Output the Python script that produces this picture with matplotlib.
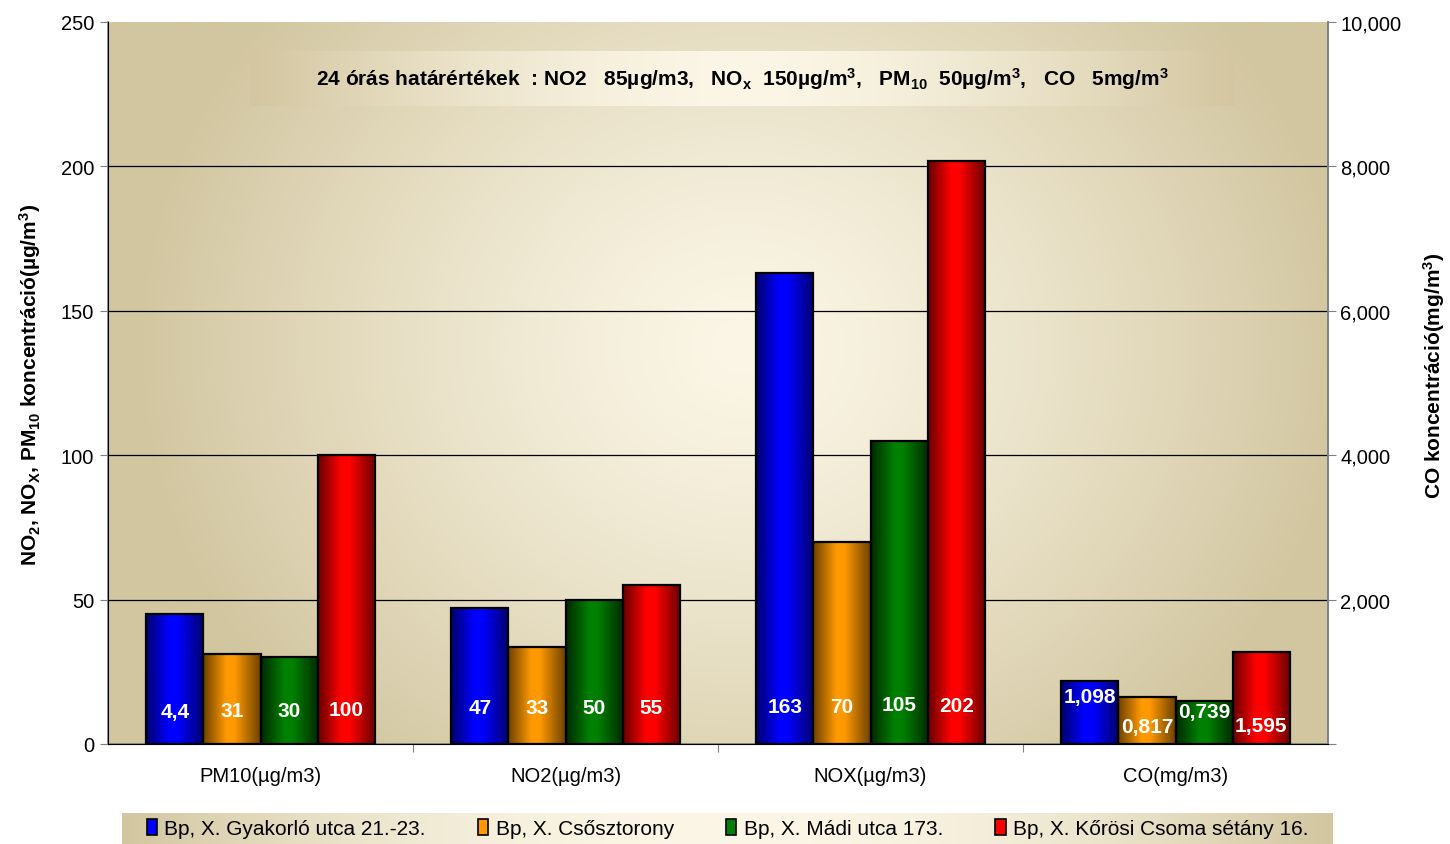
import matplotlib.pyplot as plt
from matplotlib.colors import LinearSegmentedColormap, to_rgb
from matplotlib.patches import Rectangle
import numpy as np

plt.rcParams['font.family'] = ['Liberation Sans', 'DejaVu Sans']
plt.rcParams['mathtext.fontset'] = 'custom'
plt.rcParams['mathtext.rm'] = 'Liberation Sans:bold'
plt.rcParams['mathtext.it'] = 'Liberation Sans:bold'
plt.rcParams['mathtext.bf'] = 'Liberation Sans:bold'
plt.rcParams['mathtext.default'] = 'rm'

# data
categories = ['PM10(µg/m3)', 'NO2(µg/m3)', 'NOX(µg/m3)', 'CO(mg/m3)']
stations = ['Bp, X. Gyakorló utca 21.-23.', 'Bp, X. Csősztorony',
            'Bp, X. Mádi utca 173.', 'Bp, X. Kőrösi Csoma sétány 16.']
# bar heights on the left axis (CO plotted x20)
heights = [
    [45, 31, 30, 100],
    [47, 33.5, 50, 55],
    [163, 70, 105, 202],
    [21.96, 16.34, 14.78, 31.9],
]
labels = [
    ['4,4', '31', '30', '100'],
    ['47', '33', '50', '55'],
    ['163', '70', '105', '202'],
    ['1,098', '0,817', '0,739', '1,595'],
]
label_y = [
    [11.2, 11.6, 11.6, 11.8],
    [12.8, 12.8, 12.8, 12.8],
    [13.0, 13.0, 13.6, 13.2],
    [16.4, 6.2, 11.2, 6.4],
]
bright = ['#0000ff', '#ff9900', '#008000', '#ff0000']
dark = ['#000070', '#6e4200', '#002a00', '#6a0000']

TAN = np.array(to_rgb('#d2c6a0'))
CREAM = np.array(to_rgb('#fbf6e6'))


def radial_bg(nx, ny, cx, cy, rx, ry, p=1.3, c0=CREAM, c1=TAN):
    xx, yy = np.meshgrid(np.linspace(0, 1, nx), np.linspace(0, 1, ny))
    t = np.sqrt(((xx - cx) / rx) ** 2 + ((yy - cy) / ry) ** 2)
    t = np.clip(t, 0, 1) ** p
    return c0 * (1 - t[..., None]) + c1 * t[..., None]


W, H = 1450, 845
fig = plt.figure(figsize=(W / 100, H / 100), dpi=100)
ax = fig.add_axes([108 / W, 1 - 745 / H, 1220 / W, 722 / H])

ax.imshow(radial_bg(300, 200, 0.52, 0.45, 0.5, 0.75), extent=[0, 4, 0, 250],
          aspect='auto', zorder=0, interpolation='bilinear')

bw = 0.1875
for g in range(len(categories)):
    start = g + 0.5 - 2 * bw
    for s in range(len(stations)):
        x0 = start + s * bw
        h = heights[g][s]
        cmap = LinearSegmentedColormap.from_list(
            'b', [(0, dark[s]), (0.4, bright[s]), (0.55, bright[s]), (1, dark[s])])
        ax.imshow(np.linspace(0, 1, 64)[None, :], cmap=cmap, extent=[x0, x0 + bw, 0, h],
                  aspect='auto', zorder=2, interpolation='bilinear')
        ax.add_patch(Rectangle((x0, 0), bw, h, fill=False, edgecolor='black',
                               linewidth=1.6, zorder=3))
        ax.text(x0 + bw / 2, label_y[g][s], labels[g][s], color='white',
                fontsize=15, fontweight='bold', ha='center', va='center', zorder=4)

ax.set_xlim(0, 4)
ax.set_ylim(0, 250)
ax.set_yticks([0, 50, 100, 150, 200, 250])
ax.tick_params(axis='y', labelsize=14.5, length=6, color='#808080', pad=4)
for yv in [50, 100, 150, 200]:
    ax.axhline(yv, color='black', linewidth=0.9, zorder=1)
ax.set_xticks([1, 2, 3])
ax.set_xticklabels([])
ax.tick_params(axis='x', length=6, color='#808080')
for i, c in enumerate(categories):
    ax.text(i + 0.5, -11, c, ha='center', va='center', fontsize=14.5)
ax.spines['top'].set_visible(False)
for side in ['left', 'bottom', 'right']:
    ax.spines[side].set_color('#808080')
    ax.spines[side].set_linewidth(1.2)

ax2 = ax.twinx()
ax2.set_ylim(0, 10000)
ax2.set_yticks([0, 2000, 4000, 6000, 8000, 10000])
ax2.set_yticklabels(['', '2,000', '4,000', '6,000', '8,000', '10,000'])
ax2.tick_params(axis='y', labelsize=14.5, length=6, color='#808080', pad=3)
ax2.spines['top'].set_visible(False)
ax2.spines['right'].set_color('#808080')
ax2.spines['right'].set_linewidth(1.2)

fig.text(30 / W, 1 - 385 / H, r'NO$_2$, NO$_X$, PM$_{10}$ koncentráció(µg/m$^3$)',
         rotation=90, ha='center', va='center', fontsize=15, fontweight='bold')
fig.text(1434 / W, 1 - 376 / H, r'CO koncentráció(mg/m$^3$)',
         rotation=90, ha='center', va='center', fontsize=15, fontweight='bold')

# limit value box
bx = fig.add_axes([250 / W, 1 - 107 / H, 985 / W, 55 / H])
bx.imshow(radial_bg(300, 20, 0.5, 0.5, 0.5, 50, p=1.6, c1=np.array(to_rgb('#d3c6a0'))),
          extent=[0, 1, 0, 1], aspect='auto', interpolation='bilinear')
bx.set_xlim(0, 1)
bx.set_ylim(0, 1)
bx.axis('off')
bx.text(0.5, 0.5, r'24 órás határértékek  : NO2   85µg/m3,   NO$_x$  150µg/m$^3$,   '
        r'PM$_{10}$  50µg/m$^3$,   CO   5mg/m$^3$',
        ha='center', va='center', fontsize=15, fontweight='bold')

# legend box
lx = fig.add_axes([122 / W, 0, 1211 / W, 31 / H])
lx.imshow(radial_bg(300, 20, 0.5, 0.5, 0.5, 50, p=2.0), extent=[0, 1, 0, 1],
          aspect='auto', interpolation='bilinear')
lx.set_xlim(0, 1)
lx.set_ylim(0, 1)
lx.axis('off')
handles = [Rectangle((0, 0), 1, 1, facecolor=bright[s], edgecolor='black', linewidth=1.2)
           for s in range(len(stations))]
lx.legend(handles, stations, loc='center', ncol=4, frameon=False, fontsize=15,
          handlelength=0.5, handleheight=0.8, handletextpad=0.35, columnspacing=2.5,
          borderaxespad=0, borderpad=0)

fig.savefig('out.png', dpi=100)
